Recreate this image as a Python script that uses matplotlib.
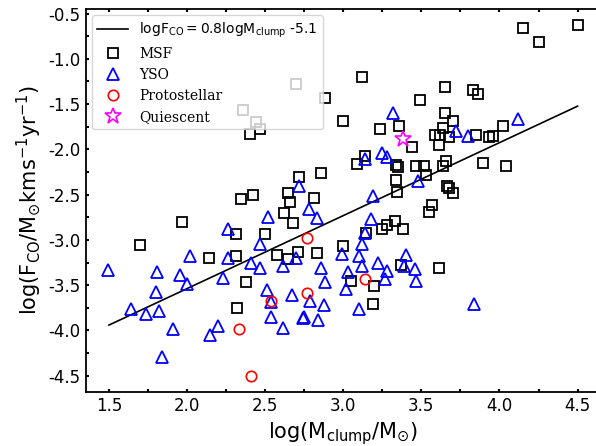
import matplotlib
matplotlib.use('Agg')
import numpy as np
import matplotlib.pyplot as plt
from matplotlib.ticker import MultipleLocator

# MSF clumps
msf_x = [4.15, 4.50, 4.25, 3.12, 3.65, 3.83, 3.86, 3.49, 3.00, 2.88,
         2.70, 2.36, 2.44, 2.47, 2.40, 3.36, 3.235, 3.65, 3.70, 3.64,
         3.59, 3.62, 3.68, 3.61, 3.44, 3.14, 3.085, 3.34, 3.35, 3.465,
         3.52, 3.53, 3.66, 3.64, 3.34, 3.345, 3.665, 3.68, 3.70, 3.57,
         3.55, 3.895, 4.045, 4.02, 3.96, 3.93, 3.85, 2.857, 2.716, 2.648,
         2.66, 2.81, 2.42, 2.343, 2.62, 2.68, 2.313, 2.50, 2.313, 2.577,
         2.648, 2.71, 2.835, 2.996, 2.377, 2.318, 1.70, 1.97, 2.14, 3.33,
         3.28, 3.245, 3.38, 3.145, 3.37, 3.61, 3.05, 3.20, 3.19]
msf_y = [-0.66, -0.63, -0.81, -1.20, -1.31, -1.34, -1.39, -1.46, -1.69, -1.43,
         -1.28, -1.56, -1.70, -1.78, -1.83, -1.74, -1.78, -1.60, -1.69, -1.76,
         -1.84, -1.84, -1.86, -1.95, -1.97, -2.07, -2.16, -2.17, -2.19, -2.18,
         -2.18, -2.28, -2.13, -2.18, -2.34, -2.47, -2.41, -2.43, -2.48, -2.61,
         -2.69, -2.15, -2.18, -1.74, -1.85, -1.86, -1.84, -2.26, -2.31, -2.48,
         -2.58, -2.54, -2.50, -2.55, -2.70, -2.81, -2.94, -2.94, -3.18, -3.17,
         -3.21, -3.13, -3.14, -3.07, -3.46, -3.75, -3.06, -2.80, -3.20, -2.79,
         -2.84, -2.88, -2.88, -2.92, -3.28, -3.31, -3.45, -3.51, -3.71]

# YSO clumps
yso_x = [4.12, 1.496, 1.81, 1.955, 2.00, 1.80, 1.64, 1.74, 1.82, 1.91,
         1.84, 2.02, 2.20, 2.15, 2.23, 2.26, 2.26, 2.41, 2.47, 2.47,
         2.52, 2.51, 2.54, 2.535, 2.616, 2.616, 2.67, 2.70, 2.78, 2.83,
         2.79, 2.74, 2.75, 2.84, 2.876, 2.86, 2.88, 2.99, 3.03, 3.02,
         2.716, 3.19, 3.18, 3.14, 3.12, 3.10, 3.12, 3.22, 3.10, 3.40,
         3.39, 3.28, 3.27, 3.46, 3.465, 3.84, 3.32, 3.72, 3.80, 3.14,
         3.25, 3.28, 3.48]
yso_y = [-1.66, -3.33, -3.35, -3.39, -3.49, -3.58, -3.76, -3.82, -3.78, -3.98,
         -4.29, -3.18, -3.95, -4.05, -3.42, -2.88, -3.20, -3.25, -3.31, -3.04,
         -2.75, -3.55, -3.69, -3.85, -3.29, -3.97, -3.61, -3.20, -2.66, -2.76,
         -3.67, -3.86, -3.85, -3.89, -3.72, -3.31, -3.47, -3.16, -3.35, -3.54,
         -2.41, -2.52, -2.77, -2.92, -3.04, -3.18, -3.29, -3.25, -3.76, -3.17,
         -3.29, -3.34, -3.43, -3.32, -3.45, -3.71, -1.60, -1.80, -1.85, -2.11,
         -2.04, -2.08, -2.35]

# protostellar clumps
proto_x = [2.765, 2.77, 2.535, 2.334, 2.41, 3.14]
proto_y = [-2.98, -3.59, -3.67, -3.98, -4.50, -3.43]

# quiescent clump
qui_x = [3.38]
qui_y = [-1.885]

# relation drawn in the figure
fit_slope = 0.806
fit_icpt = -5.15
fit_range = [1.5, 4.5]


def plot_graph():
    plt.rcParams['axes.unicode_minus'] = False
    fig = plt.figure(figsize=(5.96, 4.46), dpi=100)
    ax = fig.add_axes([85.5 / 596, 54 / 446, 515.5 / 596, 383 / 446])

    xx = np.array(fit_range)
    ax.plot(xx, fit_slope * xx + fit_icpt, color='black', lw=1.2,
            label=r'$\mathrm{logF_{CO} = 0.8logM_{clump}}$ -5.1')
    ax.plot(msf_x, msf_y, 's', ms=7.5, mfc='none', mec='black', mew=1.3,
            label='MSF')
    ax.plot(yso_x, yso_y, '^', ms=8.5, mfc='none', mec='blue', mew=1.3,
            label='YSO')
    ax.plot(proto_x, proto_y, 'o', ms=7.5, mfc='none', mec='red', mew=1.2,
            label='Protostellar')
    ax.plot(qui_x, qui_y, '*', ms=12, mfc='none', mec='magenta', mew=1.2,
            label='Quiescent')

    ax.set_xlim(1.35, 4.65)
    ax.set_ylim(-4.68, -0.45)
    ax.xaxis.set_major_locator(MultipleLocator(0.5))
    ax.yaxis.set_major_locator(MultipleLocator(0.5))
    ax.xaxis.set_minor_locator(MultipleLocator(0.25))
    ax.yaxis.set_minor_locator(MultipleLocator(0.25))
    ax.tick_params(which='both', direction='in', top=True, right=True,
                   length=2.5, width=1.5, labelsize=12)
    for sp in ax.spines.values():
        sp.set_linewidth(1.3)

    ax.set_xlabel(r'log(M$_{\rm clump}$/M$_{\odot}$)', fontsize=15)
    ax.set_ylabel(r'log(F$_{\rm CO}$/M$_{\odot}$kms$^{-1}$yr$^{-1}$)',
                  fontsize=15)

    # legend text in serif, the relation label in sans
    leg = ax.legend(loc='upper left', prop={'family': 'DejaVu Serif', 'size': 10},
                    handlelength=2.2, borderaxespad=0.45)
    leg.get_texts()[0].set_family('DejaVu Sans')

    fig.savefig('out.png', dpi=100)


if __name__ == "__main__":
    plot_graph()
